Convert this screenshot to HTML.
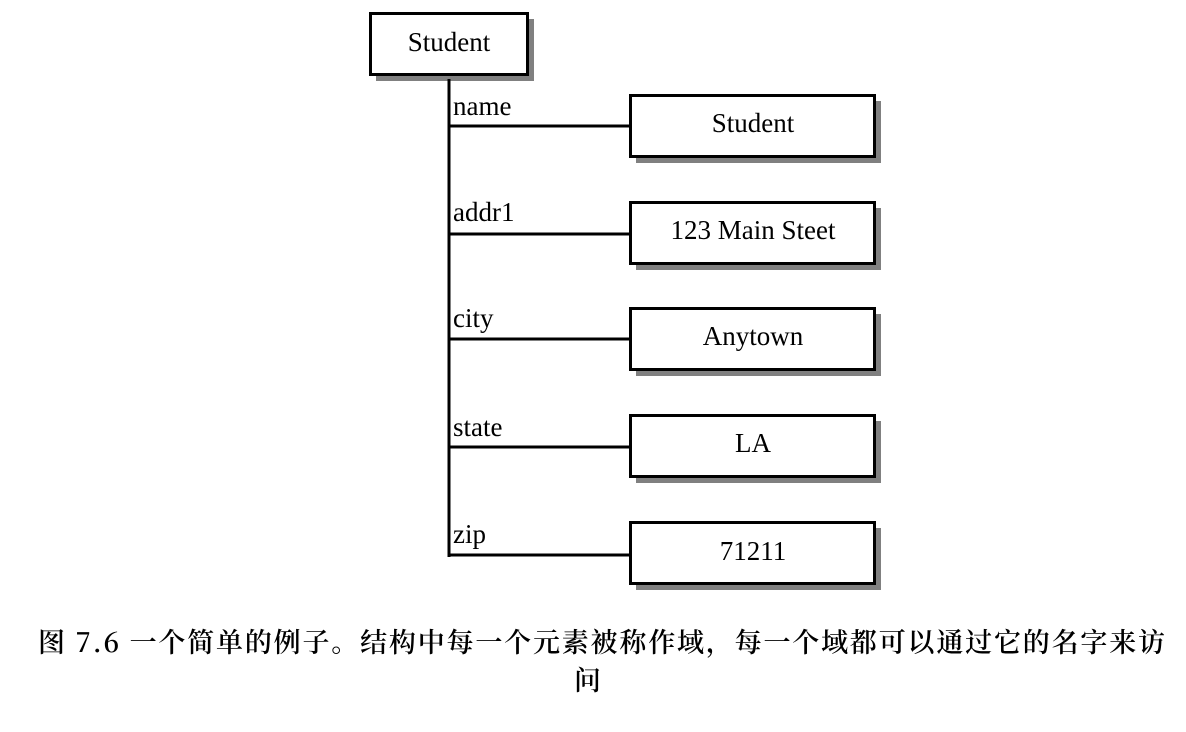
<!DOCTYPE html>
<html><head><meta charset="utf-8"><style>
body{margin:0;background:#fff;width:1186px;height:727px;overflow:hidden}
</style></head><body>
<svg width="1186" height="727" xmlns="http://www.w3.org/2000/svg">
<g fill="#808080">
<rect x="376" y="19" width="158" height="62"/>
<rect x="636" y="101" width="245" height="62"/>
<rect x="636" y="208" width="245" height="62"/>
<rect x="636" y="314" width="245" height="62"/>
<rect x="636" y="421" width="245" height="62"/>
<rect x="636" y="528" width="245" height="62"/>
</g>
<g fill="#fff" stroke="#000" stroke-width="3">
<rect x="370.5" y="13.5" width="157" height="61"/>
<rect x="630.5" y="95.5" width="244" height="61"/>
<rect x="630.5" y="202.5" width="244" height="61"/>
<rect x="630.5" y="308.5" width="244" height="61"/>
<rect x="630.5" y="415.5" width="244" height="61"/>
<rect x="630.5" y="522.5" width="244" height="61"/>
</g>
<g stroke="#000" stroke-width="3">
<line x1="449" y1="79" x2="449" y2="557"/>
<line x1="449" y1="126" x2="630" y2="126"/>
<line x1="449" y1="234" x2="630" y2="234"/>
<line x1="449" y1="339" x2="630" y2="339"/>
<line x1="449" y1="447" x2="630" y2="447"/>
<line x1="449" y1="555" x2="630" y2="555"/>
</g>
<g font-family="Liberation Serif, serif" font-size="27" fill="#000">
<text x="449" y="51" text-anchor="middle">Student</text>
<text x="753" y="132" text-anchor="middle">Student</text>
<text x="753" y="239" text-anchor="middle">123 Main Steet</text>
<text x="753" y="345" text-anchor="middle">Anytown</text>
<text x="753" y="452" text-anchor="middle">LA</text>
<text x="753" y="560" text-anchor="middle">71211</text>
<text x="453" y="115">name</text>
<text x="453" y="221">addr1</text>
<text x="453" y="327">city</text>
<text x="453" y="436">state</text>
<text x="453" y="543">zip</text>
</g>
<g font-family="'Noto Serif CJK SC', 'Noto Sans CJK SC', serif" font-size="27" font-weight="600" fill="#000">
<text x="38" y="652" textLength="1127" lengthAdjust="spacing">图 7.6 一个简单的例子。结构中每一个元素被称作域，每一个域都可以通过它的名字来访</text>
<text x="574" y="690">问</text>
</g>
</svg>
</body></html>
